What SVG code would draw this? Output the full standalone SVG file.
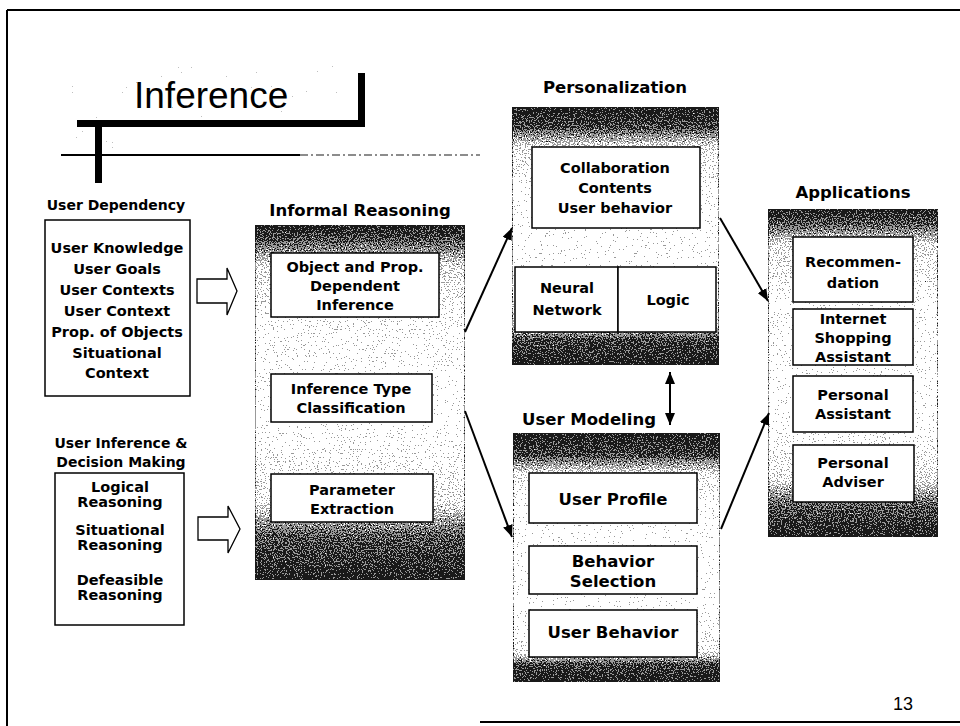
<svg xmlns="http://www.w3.org/2000/svg" width="960" height="726" viewBox="0 0 960 726">
  <style>
    .frame { fill: none; stroke: #000; stroke-width: 2; }
    .box { fill: #fff; stroke: #000; stroke-width: 1.5; }
    .panel { stroke: #000; stroke-width: 1; }
    .t { font-family: "DejaVu Sans", Verdana, sans-serif; font-weight: bold; font-size: 14.5px; fill: #000; text-anchor: middle; }
    .lbl { font-family: "DejaVu Sans", Verdana, sans-serif; font-weight: bold; font-size: 14px; fill: #000; text-anchor: middle; }
    .head { font-family: "DejaVu Sans", Verdana, sans-serif; font-weight: bold; font-size: 16.5px; fill: #000; text-anchor: middle; }
    .big { font-size: 16.5px; }
    .conn { stroke: #000; stroke-width: 2; fill: none; }
    .blk { fill: #fff; stroke: #000; stroke-width: 1.3; }
  </style>
  <defs>
    <!-- halftone-like stipple applied to the shaded panels -->
    <filter id="stipple" x="0" y="0" width="100%" height="100%" color-interpolation-filters="sRGB">
      <feTurbulence type="fractalNoise" baseFrequency="0.75" numOctaves="1" seed="7" result="noise"/>
      <feColorMatrix in="noise" type="matrix" values="1 0 0 0 0  1 0 0 0 0  1 0 0 0 0  0 0 0 0 1" result="gray"/>
      <feComposite in="SourceGraphic" in2="gray" operator="arithmetic" k1="0" k2="1" k3="1.6" k4="-0.8" result="sum"/>
      <feComponentTransfer in="sum">
        <feFuncR type="discrete" tableValues="0.1 0.6 1"/>
        <feFuncG type="discrete" tableValues="0.1 0.6 1"/>
        <feFuncB type="discrete" tableValues="0.1 0.6 1"/>
        <feFuncA type="linear" slope="0" intercept="1"/>
      </feComponentTransfer>
    </filter>
    <filter id="haze" x="0" y="0" width="100%" height="100%" color-interpolation-filters="sRGB">
      <feTurbulence type="fractalNoise" baseFrequency="0.8" numOctaves="1" seed="11" result="noise"/>
      <feColorMatrix in="noise" type="matrix" values="1 0 0 0 0  1 0 0 0 0  1 0 0 0 0  0 0 0 0 1" result="gray"/>
      <feComposite in="SourceGraphic" in2="gray" operator="arithmetic" k1="0" k2="1" k3="1.6" k4="-0.8" result="sum"/>
      <feComponentTransfer in="sum">
        <feFuncR type="discrete" tableValues="0.75 0.75 1 1"/>
        <feFuncG type="discrete" tableValues="0.75 0.75 1 1"/>
        <feFuncB type="discrete" tableValues="0.75 0.75 1 1"/>
        <feFuncA type="linear" slope="0" intercept="1"/>
      </feComponentTransfer>
    </filter>
    <linearGradient id="gInformal" x1="0" y1="0" x2="0" y2="1">
      <stop offset="0" stop-color="#222"/>
      <stop offset="0.05" stop-color="#555"/>
      <stop offset="0.12" stop-color="#c8c8c8"/>
      <stop offset="0.3" stop-color="#f0f0f0"/>
      <stop offset="0.55" stop-color="#fcfcfc"/>
      <stop offset="0.78" stop-color="#d0d0d0"/>
      <stop offset="0.87" stop-color="#555"/>
      <stop offset="1" stop-color="#222"/>
    </linearGradient>
    <linearGradient id="gPers" x1="0" y1="0" x2="0" y2="1">
      <stop offset="0" stop-color="#222"/>
      <stop offset="0.08" stop-color="#444"/>
      <stop offset="0.16" stop-color="#d0d0d0"/>
      <stop offset="0.35" stop-color="#f6f6f6"/>
      <stop offset="0.6" stop-color="#fcfcfc"/>
      <stop offset="0.84" stop-color="#d0d0d0"/>
      <stop offset="0.9" stop-color="#444"/>
      <stop offset="1" stop-color="#222"/>
    </linearGradient>
    <linearGradient id="gModel" x1="0" y1="0" x2="0" y2="1">
      <stop offset="0" stop-color="#222"/>
      <stop offset="0.09" stop-color="#444"/>
      <stop offset="0.17" stop-color="#d8d8d8"/>
      <stop offset="0.35" stop-color="#f8f8f8"/>
      <stop offset="0.7" stop-color="#fcfcfc"/>
      <stop offset="0.88" stop-color="#d8d8d8"/>
      <stop offset="0.93" stop-color="#444"/>
      <stop offset="1" stop-color="#222"/>
    </linearGradient>
    <linearGradient id="gApps" x1="0" y1="0" x2="0" y2="1">
      <stop offset="0" stop-color="#222"/>
      <stop offset="0.05" stop-color="#555"/>
      <stop offset="0.11" stop-color="#c8c8c8"/>
      <stop offset="0.3" stop-color="#f2f2f2"/>
      <stop offset="0.6" stop-color="#fafafa"/>
      <stop offset="0.82" stop-color="#d0d0d0"/>
      <stop offset="0.9" stop-color="#555"/>
      <stop offset="1" stop-color="#222"/>
    </linearGradient>
    <marker id="arrow" viewBox="0 0 12 10" refX="12" refY="5" markerWidth="12" markerHeight="10" markerUnits="userSpaceOnUse" orient="auto-start-reverse">
      <path d="M0,0 L12,5 L0,10 Z" fill="#000"/>
    </marker>
  </defs>

  <rect width="960" height="726" fill="#fff"/>

  <!-- page frame -->
  <g id="frame">
    <line x1="7" y1="10" x2="960" y2="10" class="frame"/>
    <line x1="7" y1="10" x2="7" y2="726" class="frame"/>
    <line x1="480" y1="722" x2="960" y2="722" class="frame"/>
  </g>

  <!-- slide heading -->
  <g id="heading">
    <rect x="68" y="64" width="288" height="56" fill="#f0f0f0" filter="url(#haze)"/>
    <rect x="70" y="126" width="22" height="26" fill="#ececec" filter="url(#haze)"/>
    <rect x="104" y="128" width="22" height="24" fill="#ececec" filter="url(#haze)"/>
    <rect x="72" y="160" width="20" height="18" fill="#ececec" filter="url(#haze)"/>
    <rect x="104" y="160" width="20" height="18" fill="#ececec" filter="url(#haze)"/>
    <text x="134" y="108" font-family="'Liberation Sans', Arial, sans-serif" font-size="37" fill="#000">Inference</text>
    <path d="M358,73 H365 V127 H77 V120 H358 Z" fill="#000"/>
    <rect x="95" y="120" width="7" height="63" fill="#000"/>
    <line x1="61" y1="155" x2="300" y2="155" stroke="#000" stroke-width="2"/>
    <line x1="300" y1="155" x2="480" y2="155" stroke="#000" stroke-width="1.5" stroke-dasharray="8 3 2 3" opacity="0.6"/>
  </g>

  <!-- User Dependency -->
  <g id="user-dependency">
    <text class="lbl" x="116" y="210">User Dependency</text>
    <rect class="box" x="45" y="220" width="145" height="176"/>
    <text class="t" x="117" y="253">User Knowledge</text>
    <text class="t" x="117" y="274">User Goals</text>
    <text class="t" x="117" y="295">User Contexts</text>
    <text class="t" x="117" y="316">User Context</text>
    <text class="t" x="117" y="337">Prop. of Objects</text>
    <text class="t" x="117" y="358">Situational</text>
    <text class="t" x="117" y="378">Context</text>
  </g>

  <!-- User Inference & Decision Making -->
  <g id="user-inference">
    <text class="lbl" x="121" y="448">User Inference &amp;</text>
    <text class="lbl" x="121" y="467">Decision Making</text>
    <rect class="box" x="55" y="473" width="129" height="152"/>
    <text class="t" x="120" y="492">Logical</text>
    <text class="t" x="120" y="507">Reasoning</text>
    <text class="t" x="120" y="535">Situational</text>
    <text class="t" x="120" y="550">Reasoning</text>
    <text class="t" x="120" y="585">Defeasible</text>
    <text class="t" x="120" y="600">Reasoning</text>
  </g>

  <!-- block arrows into Informal Reasoning -->
  <g id="block-arrows">
    <path class="blk" d="M197,279 H227 V268 L237,291 L227,315 V303 H197 Z"/>
    <path class="blk" d="M198,517 H228 V506 L240,529 L228,553 V540 H198 Z"/>
  </g>

  <!-- Informal Reasoning -->
  <g id="informal-reasoning">
    <text class="head" x="360" y="216" font-size="17">Informal Reasoning</text>
    <rect class="panel" x="255" y="225" width="210" height="355" fill="url(#gInformal)" filter="url(#stipple)"/>
    <rect class="box" x="271" y="253" width="168" height="64"/>
    <text class="t" x="355" y="272">Object and Prop.</text>
    <text class="t" x="355" y="291">Dependent</text>
    <text class="t" x="355" y="310">Inference</text>
    <rect class="box" x="271" y="374" width="161" height="48"/>
    <text class="t" x="351" y="394">Inference Type</text>
    <text class="t" x="351" y="413">Classification</text>
    <rect class="box" x="271" y="474" width="162" height="48"/>
    <text class="t" x="352" y="495">Parameter</text>
    <text class="t" x="352" y="514">Extraction</text>
  </g>

  <!-- Personalization -->
  <g id="personalization">
    <text class="head" x="615" y="93">Personalization</text>
    <rect class="panel" x="512" y="107" width="207" height="258" fill="url(#gPers)" filter="url(#stipple)"/>
    <rect class="box" x="532" y="147" width="168" height="81"/>
    <text class="t" x="615" y="173">Collaboration</text>
    <text class="t" x="615" y="193">Contents</text>
    <text class="t" x="615" y="213">User behavior</text>
    <rect class="box" x="515" y="267" width="103" height="65"/>
    <text class="t" x="567" y="293">Neural</text>
    <text class="t" x="567" y="315">Network</text>
    <rect class="box" x="618" y="267" width="98" height="65"/>
    <text class="t" x="668" y="305">Logic</text>
  </g>

  <!-- User Modeling -->
  <g id="user-modeling">
    <text class="head" x="589" y="425">User Modeling</text>
    <rect class="panel" x="513" y="433" width="207" height="249" fill="url(#gModel)" filter="url(#stipple)"/>
    <rect class="box" x="529" y="473" width="168" height="50"/>
    <text class="t big" x="613" y="505">User Profile</text>
    <rect class="box" x="529" y="546" width="168" height="48"/>
    <text class="t big" x="613" y="567">Behavior</text>
    <text class="t big" x="613" y="587">Selection</text>
    <rect class="box" x="529" y="610" width="168" height="47"/>
    <text class="t big" x="613" y="638">User Behavior</text>
  </g>

  <!-- Applications -->
  <g id="applications">
    <text class="head" x="853" y="198">Applications</text>
    <rect class="panel" x="768" y="209" width="170" height="328" fill="url(#gApps)" filter="url(#stipple)"/>
    <rect class="box" x="793" y="237" width="120" height="65"/>
    <text class="t" x="853" y="267">Recommen-</text>
    <text class="t" x="853" y="288">dation</text>
    <rect class="box" x="793" y="309" width="120" height="56"/>
    <text class="t" x="853" y="324">Internet</text>
    <text class="t" x="853" y="343">Shopping</text>
    <text class="t" x="853" y="362">Assistant</text>
    <rect class="box" x="793" y="376" width="120" height="56"/>
    <text class="t" x="853" y="400">Personal</text>
    <text class="t" x="853" y="419">Assistant</text>
    <rect class="box" x="793" y="445" width="121" height="57"/>
    <text class="t" x="853" y="468">Personal</text>
    <text class="t" x="853" y="487">Adviser</text>
  </g>

  <!-- connectors -->
  <g id="connectors">
    <line class="conn" x1="465" y1="332" x2="512" y2="228" marker-end="url(#arrow)"/>
    <line class="conn" x1="465" y1="411" x2="512" y2="537" marker-end="url(#arrow)"/>
    <line class="conn" x1="720" y1="218" x2="768" y2="301" marker-end="url(#arrow)"/>
    <line class="conn" x1="721" y1="529" x2="769" y2="413" marker-end="url(#arrow)"/>
    <line class="conn" x1="670" y1="372" x2="670" y2="425" marker-start="url(#arrow)" marker-end="url(#arrow)"/>
  </g>

  <text x="913" y="710" font-family="'Liberation Sans', Arial, sans-serif" font-size="18" text-anchor="end" fill="#000">13</text>
</svg>
